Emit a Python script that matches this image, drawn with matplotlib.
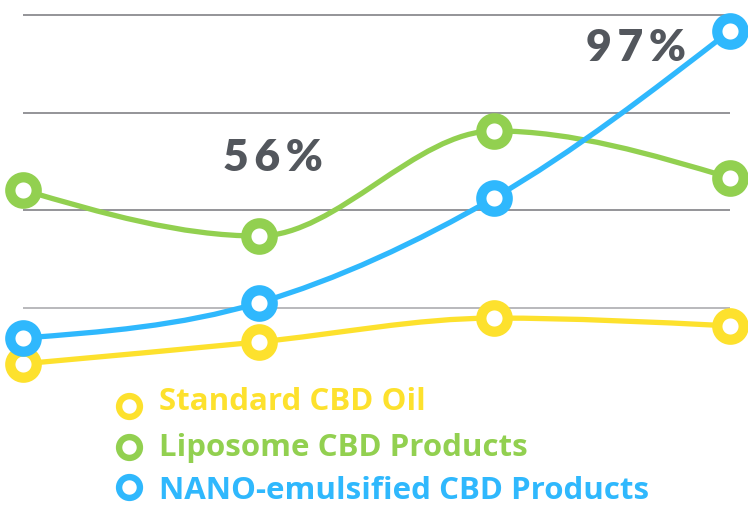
import numpy as np
import matplotlib.pyplot as plt
from matplotlib.path import Path
from matplotlib.patches import PathPatch

plt.rcParams['font.family'] = ['Lato', 'DejaVu Sans']

# data (arbitrary units, gridlines at 25/50/75/100)
x_pos = [0, 1, 2, 3]
standard = [10.7, 16.3, 22.4, 20.4]
liposome = [55.2, 43.4, 70.3, 58.3]
nano = [17.3, 26.3, 53.2, 95.9]
series_names = ["Standard CBD Oil", "Liposome CBD Products", "NANO-emulsified CBD Products"]
colors = ["#FDE12D", "#92D050", "#2FB8FD"]
grid_vals = [25, 50, 75, 100]
callouts = [("56%", 1.06, 63.4), ("97%", 2.6, 91.5)]


def monotone_path(x, y):
    # smooth monotone-x bezier through the points (like d3 curveMonotoneX)
    x = np.asarray(x, float)
    y = np.asarray(y, float)
    n = len(x)
    h = np.diff(x)
    s = np.diff(y) / h
    t = np.zeros(n)
    for i in range(1, n - 1):
        p = (s[i - 1] * h[i] + s[i] * h[i - 1]) / (h[i - 1] + h[i])
        t[i] = (np.sign(s[i - 1]) + np.sign(s[i])) * min(abs(s[i - 1]), abs(s[i]), 0.5 * abs(p))
    t[0] = (3 * s[0] - t[1]) / 2
    t[-1] = (3 * s[-1] - t[-2]) / 2
    verts = [(x[0], y[0])]
    codes = [Path.MOVETO]
    for i in range(n - 1):
        dx = h[i] / 3
        verts += [(x[i] + dx, y[i] + dx * t[i]), (x[i + 1] - dx, y[i + 1] - dx * t[i + 1]), (x[i + 1], y[i + 1])]
        codes += [Path.CURVE4] * 3
    return Path(verts, codes)


fig = plt.figure(figsize=(7.48, 5.08), dpi=100)
ax = fig.add_axes([0, 0, 1, 1])
ax.set_xlim(-0.0976, 3.076)
ax.set_ylim(-26.2, 103.8)
ax.axis("off")

for i, g in enumerate(grid_vals):
    ax.hlines(g, 0, 3, color="#a6a6aa" if i == 0 else "#77777c", lw=1.1, zorder=1)

for k, (vals, c) in enumerate(zip([standard, liposome, nano], colors)):
    ax.add_patch(PathPatch(monotone_path(x_pos, vals), fill=False, edgecolor=c,
                           lw=3.8, zorder=2 + 2 * k, capstyle="round"))
    ax.plot(x_pos, vals, ls="none", marker="o", ms=19, mfc="white", mec=c,
            mew=7.4, zorder=3 + 2 * k, clip_on=False)

for txt, xx, yy in callouts:
    ax.text(xx, yy, "\u2009".join(txt), ha="center", va="center", fontsize=32,
            fontweight="heavy", color="#53575d", zorder=10)

# legend
leg_y = [0.208, 0.119, 0.034]
mark_y = [0.201, 0.12, 0.041]
for name, c, ly, my in zip(series_names, colors, leg_y, mark_y):
    ax.plot([0.1725], [my], transform=ax.transAxes, ls="none", marker="o", ms=15,
            mfc="white", mec=c, mew=4.6, clip_on=False)
    ax.text(0.213, ly, name, transform=ax.transAxes, ha="left", va="center",
            fontsize=22.5, fontweight="bold", color=c, family="Open Sans")

fig.savefig("out.png", dpi=100)
